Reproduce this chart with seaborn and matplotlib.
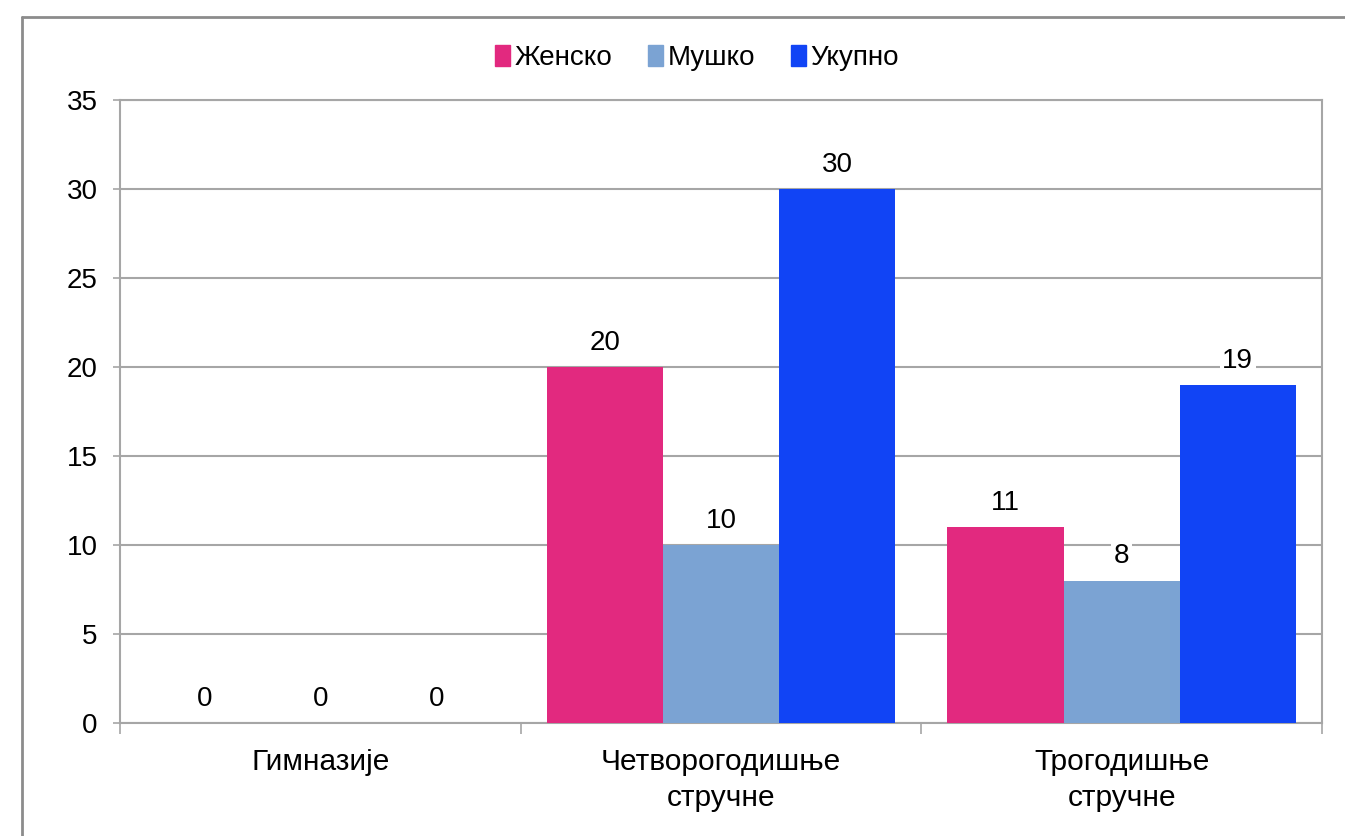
import pandas as pd
import matplotlib
matplotlib.use("Agg")
import matplotlib.pyplot as plt
import seaborn as sns
from matplotlib.lines import Line2D

categories = ["Гимназије", "Четворогодишње\nстручне", "Трогодишње\nстручне"]
series = ["Женско", "Мушко", "Укупно"]
zensko = [0, 20, 11]
musko = [0, 10, 8]
ukupno = [0, 30, 19]
colors = ["#E2297F", "#7BA3D3", "#1144F5"]

rows = []
for name, vals in zip(series, [zensko, musko, ukupno]):
    for cat, v in zip(categories, vals):
        rows.append({"cat": cat, "serija": name, "val": v})
df = pd.DataFrame(rows)

sns.set_style("white")
plt.rcParams["font.family"] = ["Liberation Sans", "DejaVu Sans"]
plt.rcParams["text.color"] = "black"
plt.rcParams["xtick.color"] = "black"
plt.rcParams["ytick.color"] = "black"

fig = plt.figure(figsize=(13.45, 8.36), dpi=100)
ax = fig.add_axes([120 / 1345, 1 - 723 / 836, (1322 - 120) / 1345, (723 - 100) / 836])

sns.barplot(data=df, x="cat", y="val", hue="serija", hue_order=series,
            order=categories, palette=colors, width=0.87, gap=0,
            saturation=1, ax=ax, legend=False, zorder=3, linewidth=0)

for cont in ax.containers:
    ax.bar_label(cont, padding=8, fontsize=20,
                 bbox=dict(facecolor="white", edgecolor="none", pad=2))

ax.set_ylim(0, 35)
ax.set_xlim(-0.5, 2.5)
ax.set_yticks(range(0, 36, 5))
ax.yaxis.grid(True, color="#A6A6A6", linewidth=1.5, zorder=0)
ax.set_axisbelow(True)
ax.set_xlabel("")
ax.set_ylabel("")
ax.tick_params(axis="y", labelsize=20, length=5, width=1.2, color="#A6A6A6",
               left=True, pad=11, labelcolor="black")
ax.set_xticks([0, 1, 2])
ax.set_xticklabels(categories, fontsize=21.5, linespacing=1.35)
ax.tick_params(axis="x", length=0, pad=18, labelcolor="black")
ax.set_xticks([-0.5, 0.5, 1.5, 2.5], minor=True)
ax.tick_params(axis="x", which="minor", length=8, width=1.2, color="#A6A6A6",
               bottom=True)
for s in ax.spines.values():
    s.set_color("#A6A6A6")
    s.set_linewidth(1.5)
    s.set_visible(True)

handles = [plt.Rectangle((0, 0), 1, 1, color=c) for c in colors]
fig.legend(handles, series, loc="center", bbox_to_anchor=(697 / 1345, 1 - 58 / 836),
           ncol=3, frameon=False, fontsize=20, handlelength=0.55, handleheight=0.8,
           handletextpad=0.15, columnspacing=1.3)

# outer chart frame
fig.add_artist(Line2D([22 / 1345, 22 / 1345], [0, 1 - 17 / 836],
                      transform=fig.transFigure, color="#8C8C8C", linewidth=2))
fig.add_artist(Line2D([22 / 1345, 1], [1 - 17 / 836, 1 - 17 / 836],
                      transform=fig.transFigure, color="#8C8C8C", linewidth=2))

fig.savefig("out.png", dpi=100)
